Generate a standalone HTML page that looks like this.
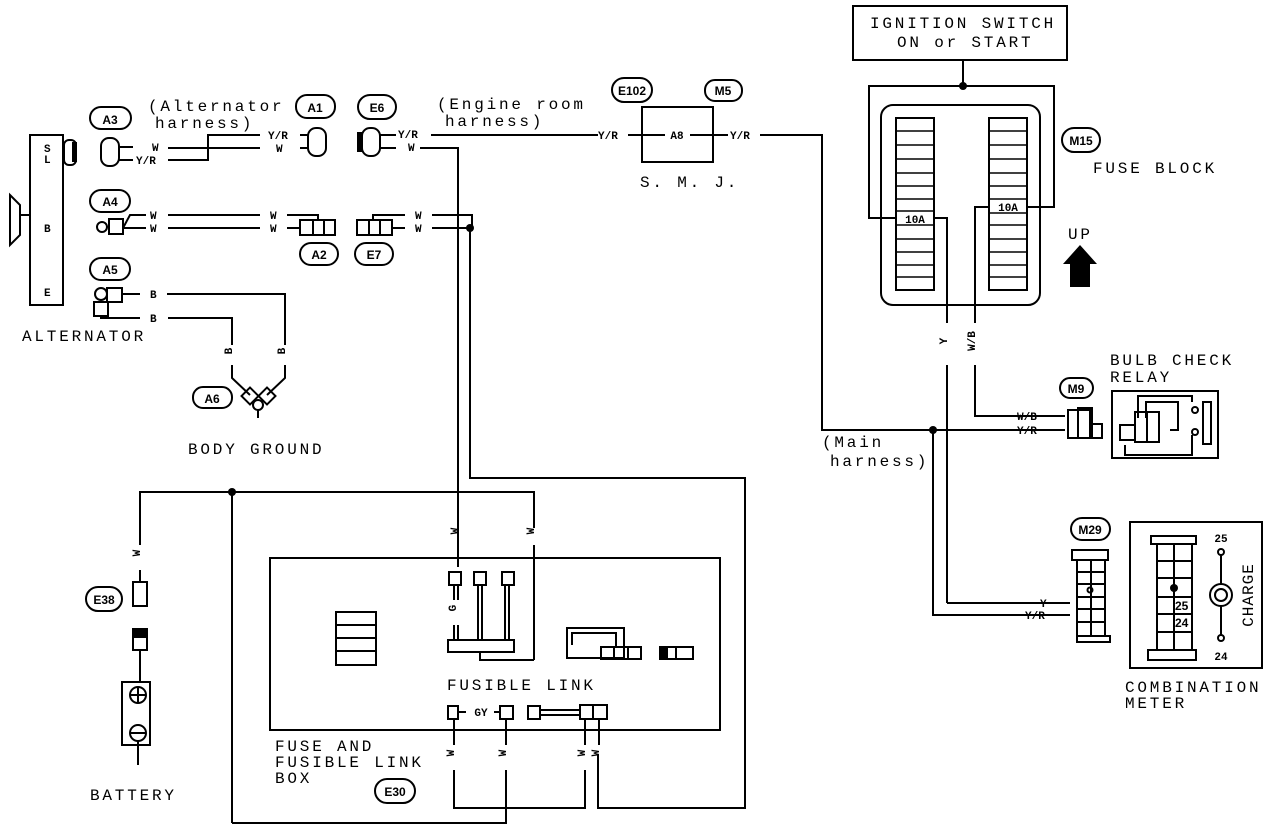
<!DOCTYPE html>
<html><head><meta charset="utf-8"><style>
html,body{margin:0;padding:0;background:#fff;}
svg{display:block}
text{font-family:"Liberation Mono",monospace;fill:#000}
.t{font-size:16px;letter-spacing:2.8px}
.s{font-size:11px;font-weight:bold}
.o{font-size:12px;font-weight:bold;font-family:"Liberation Sans Narrow","Liberation Sans",sans-serif}
</style></head><body>
<svg width="1280" height="832" viewBox="0 0 1280 832" xmlns="http://www.w3.org/2000/svg">
<g fill="none" stroke="#000" stroke-width="2">
<rect x="853" y="6" width="214" height="54"/>
<line x1="963" y1="60" x2="963" y2="86"/>
<polyline points="895,218 869,218 869,86 1054,86 1054,207 1028,207"/>
<rect x="881" y="105" width="159" height="200" rx="12"/>
<rect x="896" y="118" width="38" height="172"/>
<rect x="989" y="118" width="38" height="172"/>
<polyline points="934,218 947,218 947,323"/>
<polyline points="989,207 975,207 975,323"/>
<line x1="947" y1="365" x2="947" y2="603"/>
<line x1="947" y1="603" x2="1070" y2="603"/>
<polyline points="975,365 975,416 1065,416"/>
<polyline points="760,135 822,135 822,430 1065,430"/>
<polyline points="933,430 933,615 1070,615"/>
<rect x="1068" y="410" width="22" height="28"/>
<rect x="1078" y="408" width="14" height="30"/>
<rect x="1090" y="424" width="12" height="14"/>
<rect x="1112" y="391" width="106" height="67"/>
<polyline points="1138,418 1138,396 1192,396 1192,402"/>
<polyline points="1146,418 1146,402 1178,402 1178,430 1170,430"/>
<polyline points="1125,445 1125,455 1192,455 1192,435"/>
<rect x="1135" y="412" width="12" height="30"/>
<rect x="1147" y="412" width="12" height="30"/>
<rect x="1120" y="425" width="15" height="15"/>
<rect x="1203" y="402" width="8" height="42"/>
<circle cx="1195" cy="410" r="3"/>
<circle cx="1195" cy="432" r="3"/>
<rect x="1062" y="128" width="38" height="24" rx="12"/>
<rect x="1060" y="378" width="33" height="20" rx="10"/>
<rect x="1071" y="518" width="39" height="22" rx="11"/>
<rect x="612" y="78" width="40" height="24" rx="12"/>
<rect x="705" y="80" width="37" height="21" rx="10"/>
<rect x="296" y="95" width="39" height="23" rx="11"/>
<rect x="358" y="95" width="38" height="24" rx="12"/>
<rect x="90" y="107" width="41" height="22" rx="11"/>
<rect x="90" y="190" width="40" height="22" rx="11"/>
<rect x="90" y="258" width="40" height="22" rx="11"/>
<rect x="300" y="243" width="38" height="22" rx="11"/>
<rect x="355" y="243" width="38" height="22" rx="11"/>
<rect x="193" y="387" width="39" height="21" rx="10"/>
<rect x="86" y="587" width="36" height="24" rx="12"/>
<rect x="375" y="779" width="40" height="24" rx="12"/>
<rect x="642" y="107" width="71" height="55"/>
<line x1="431" y1="135" x2="598" y2="135"/>
<line x1="628" y1="135" x2="665" y2="135"/>
<line x1="690" y1="135" x2="728" y2="135"/>
<rect x="362" y="128" width="18" height="28" rx="8"/>
<line x1="380" y1="135" x2="396" y2="135"/>
<line x1="380" y1="148" x2="396" y2="148"/>
<polyline points="420,148 458,148 458,567"/>
<rect x="30" y="135" width="33" height="170"/>
<polygon points="10,195 20,205 20,235 10,245"/>
<line x1="20" y1="215" x2="30" y2="215"/>
<rect x="64" y="140" width="12" height="25" rx="5"/>
<rect x="101" y="138" width="18" height="28" rx="8"/>
<line x1="119" y1="147" x2="133" y2="147"/>
<line x1="119" y1="160" x2="133" y2="160"/>
<line x1="168" y1="148" x2="260" y2="148"/>
<polyline points="168,160 208,160 208,135 260,135"/>
<line x1="300" y1="135" x2="308" y2="135"/>
<line x1="300" y1="148" x2="308" y2="148"/>
<rect x="308" y="128" width="18" height="28" rx="8"/>
<circle cx="102" cy="227" r="5"/>
<rect x="109" y="219" width="14" height="15"/>
<polyline points="123,228 130,215 146,215"/>
<line x1="123" y1="228" x2="146" y2="228"/>
<line x1="168" y1="215" x2="260" y2="215"/>
<line x1="168" y1="228" x2="260" y2="228"/>
<polyline points="287,215 318,215 318,220"/>
<line x1="287" y1="228" x2="300" y2="228"/>
<rect x="300" y="220" width="35" height="15"/>
<line x1="313" y1="220" x2="313" y2="235"/><line x1="324" y1="220" x2="324" y2="235"/>
<rect x="357" y="220" width="35" height="15"/>
<line x1="369" y1="220" x2="369" y2="235"/><line x1="380" y1="220" x2="380" y2="235"/>
<polyline points="373,220 373,215 405,215"/>
<line x1="392" y1="228" x2="405" y2="228"/>
<polyline points="432,215 472,215 472,228"/>
<line x1="432" y1="228" x2="472" y2="228"/>
<polyline points="470,228 470,478 745,478 745,808 598,808 598,755"/>
<circle cx="101" cy="294" r="6"/>
<rect x="107" y="288" width="15" height="14"/>
<rect x="94" y="302" width="14" height="14"/>
<line x1="122" y1="294" x2="140" y2="294"/>
<polyline points="101,316 101,318 140,318"/>
<polyline points="167,294 285,294 285,345"/>
<polyline points="168,318 232,318 232,345"/>
<polyline points="232,365 232,378 250,395"/>
<polyline points="285,365 285,378 267,395"/>
<rect x="244" y="390" width="12" height="12" transform="rotate(45 250 396)"/>
<rect x="261" y="390" width="12" height="12" transform="rotate(45 267 396)"/>
<circle cx="258" cy="405" r="5"/>
<line x1="258" y1="410" x2="258" y2="418"/>
<polyline points="140,545 140,492 534,492 534,528"/>
<line x1="534" y1="545" x2="534" y2="660"/>
<line x1="232" y1="492" x2="232" y2="823"/>
<polyline points="232,823 506,823 506,808"/>
<line x1="140" y1="570" x2="140" y2="582"/>
<rect x="133" y="582" width="14" height="24"/>
<rect x="133" y="629" width="14" height="21"/>
<line x1="140" y1="650" x2="140" y2="682"/>
<rect x="122" y="682" width="28" height="63"/>
<circle cx="138" cy="695" r="8"/>
<line x1="130" y1="695" x2="146" y2="695"/><line x1="138" y1="687" x2="138" y2="703"/>
<circle cx="138" cy="733" r="8"/>
<line x1="130" y1="733" x2="146" y2="733"/>
<line x1="138" y1="741" x2="138" y2="765"/>
<rect x="270" y="558" width="450" height="172"/>
<rect x="336" y="612" width="40" height="53"/>
<line x1="336" y1="625" x2="376" y2="625"/><line x1="336" y1="638" x2="376" y2="638"/><line x1="336" y1="651" x2="376" y2="651"/>
<rect x="449" y="572" width="12" height="13"/>
<rect x="474" y="572" width="12" height="13"/>
<rect x="502" y="572" width="12" height="13"/>
<line x1="454" y1="585" x2="454" y2="600"/><line x1="458" y1="585" x2="458" y2="600"/>
<line x1="454" y1="625" x2="454" y2="640"/><line x1="458" y1="625" x2="458" y2="640"/>
<line x1="478" y1="585" x2="478" y2="640"/><line x1="482" y1="585" x2="482" y2="640"/>
<line x1="505" y1="585" x2="505" y2="640"/><line x1="509" y1="585" x2="509" y2="640"/>
<rect x="448" y="640" width="66" height="12"/>
<polyline points="480,652 480,660 534,660"/>
<rect x="567" y="628" width="57" height="30"/>
<polyline points="572,645 572,633 616,633 616,648"/>
<rect x="601" y="647" width="40" height="12"/>
<line x1="614" y1="647" x2="614" y2="659"/><line x1="628" y1="647" x2="628" y2="659"/>
<rect x="660" y="647" width="33" height="12"/>
<line x1="676" y1="647" x2="676" y2="659"/>
<rect x="448" y="706" width="10" height="13"/>
<rect x="500" y="706" width="13" height="13"/>
<rect x="528" y="706" width="12" height="13"/>
<rect x="580" y="705" width="27" height="14"/>
<line x1="593" y1="705" x2="593" y2="719"/>
<line x1="540" y1="710" x2="580" y2="710"/><line x1="540" y1="715" x2="580" y2="715"/>
<line x1="458" y1="712" x2="466" y2="712"/><line x1="494" y1="712" x2="500" y2="712"/>
<line x1="454" y1="719" x2="454" y2="745"/>
<line x1="506" y1="719" x2="506" y2="745"/>
<line x1="585" y1="719" x2="585" y2="745"/>
<line x1="599" y1="719" x2="599" y2="745"/>
<polyline points="454,770 454,808 585,808 585,770"/>
<line x1="506" y1="770" x2="506" y2="808"/>
<rect x="1072" y="550" width="36" height="10"/>
<rect x="1077" y="560" width="28" height="76"/>
<rect x="1077" y="636" width="33" height="6"/>
<line x1="1091" y1="560" x2="1091" y2="636"/>
<line x1="1077" y1="572" x2="1105" y2="572"/><line x1="1077" y1="584" x2="1105" y2="584"/><line x1="1077" y1="597" x2="1105" y2="597"/><line x1="1077" y1="609" x2="1105" y2="609"/><line x1="1077" y1="622" x2="1105" y2="622"/>
<circle cx="1090" cy="590" r="2.5"/>
<rect x="1130" y="522" width="132" height="146"/>
<rect x="1151" y="536" width="45" height="8"/>
<rect x="1157" y="544" width="35" height="106"/>
<rect x="1148" y="650" width="48" height="10"/>
<line x1="1174" y1="544" x2="1174" y2="650"/>
<line x1="1157" y1="561" x2="1192" y2="561"/><line x1="1157" y1="578" x2="1192" y2="578"/><line x1="1157" y1="597" x2="1192" y2="597"/><line x1="1157" y1="614" x2="1192" y2="614"/><line x1="1157" y1="632" x2="1192" y2="632"/>
<line x1="1221" y1="552" x2="1221" y2="638"/>
<circle cx="1221" cy="552" r="3" fill="#fff"/>
<circle cx="1221" cy="638" r="3" fill="#fff"/>
<circle cx="1221" cy="595" r="11" fill="#fff"/>
<circle cx="1221" cy="595" r="6" fill="#fff"/>
</g>
<g fill="#000">
<circle cx="963" cy="86" r="4"/>
<circle cx="933" cy="430" r="4"/>
<circle cx="470" cy="228" r="4"/>
<circle cx="232" cy="492" r="4"/>
<circle cx="1174" cy="588" r="4"/>
<polygon points="1080,245 1097,264 1090,264 1090,287 1070,287 1070,264 1063,264"/>
<rect x="357" y="132" width="6" height="20"/>
<rect x="72" y="142" width="5" height="20"/>
<rect x="660" y="647" width="8" height="12"/>
<rect x="134" y="630" width="12" height="8"/>
</g>
<g stroke="#000" stroke-width="1.5">
<line x1="896" y1="131" x2="934" y2="131"/><line x1="896" y1="145" x2="934" y2="145"/><line x1="896" y1="159" x2="934" y2="159"/><line x1="896" y1="173" x2="934" y2="173"/><line x1="896" y1="186" x2="934" y2="186"/><line x1="896" y1="199" x2="934" y2="199"/><line x1="896" y1="211" x2="934" y2="211"/><line x1="896" y1="225" x2="934" y2="225"/><line x1="896" y1="239" x2="934" y2="239"/><line x1="896" y1="252" x2="934" y2="252"/><line x1="896" y1="265" x2="934" y2="265"/><line x1="896" y1="277" x2="934" y2="277"/>
<line x1="989" y1="131" x2="1027" y2="131"/><line x1="989" y1="145" x2="1027" y2="145"/><line x1="989" y1="159" x2="1027" y2="159"/><line x1="989" y1="173" x2="1027" y2="173"/><line x1="989" y1="186" x2="1027" y2="186"/><line x1="989" y1="199" x2="1027" y2="199"/><line x1="989" y1="213" x2="1027" y2="213"/><line x1="989" y1="225" x2="1027" y2="225"/><line x1="989" y1="239" x2="1027" y2="239"/><line x1="989" y1="252" x2="1027" y2="252"/><line x1="989" y1="265" x2="1027" y2="265"/><line x1="989" y1="277" x2="1027" y2="277"/>
</g>
<text class="t" x="870" y="28">IGNITION SWITCH</text>
<text class="t" x="897" y="47">ON or START</text>
<text class="s" x="915" y="223" text-anchor="middle">10A</text>
<text class="s" x="1008" y="211" text-anchor="middle">10A</text>
<text class="o" x="1081" y="145" text-anchor="middle">M15</text>
<text class="t" x="1093" y="173">FUSE BLOCK</text>
<text class="t" x="1068" y="239">UP</text>
<text class="s" x="951" y="345" transform="rotate(-90 947 345)" text-anchor="middle">Y</text>
<text class="s" x="979" y="345" transform="rotate(-90 975 345)" text-anchor="middle">W/B</text>
<text class="t" x="1110" y="365">BULB CHECK</text>
<text class="t" x="1110" y="382">RELAY</text>
<text class="o" x="1076" y="393" text-anchor="middle">M9</text>
<text class="s" x="1017" y="420">W/B</text>
<text class="s" x="1017" y="434">Y/R</text>
<text class="t" x="822" y="447">(Main</text>
<text class="t" x="830" y="466">harness)</text>
<text class="o" x="1090" y="534" text-anchor="middle">M29</text>
<text class="s" x="1040" y="607">Y</text>
<text class="s" x="1025" y="619">Y/R</text>
<text class="s" x="1221" y="542" text-anchor="middle">25</text>
<text class="s" x="1221" y="660" text-anchor="middle">24</text>
<text class="o" x="1175" y="610">25</text>
<text class="o" x="1175" y="627">24</text>
<text class="t" x="1253" y="595" transform="rotate(-90 1253 595)" text-anchor="middle" style="letter-spacing:1px">CHARGE</text>
<text class="t" x="1125" y="692">COMBINATION</text>
<text class="t" x="1125" y="708">METER</text>
<text class="o" x="632" y="95" text-anchor="middle">E102</text>
<text class="o" x="723" y="95" text-anchor="middle">M5</text>
<text class="s" x="677" y="139" text-anchor="middle">A8</text>
<text class="t" x="640" y="187">S. M. J.</text>
<text class="s" x="598" y="139">Y/R</text>
<text class="s" x="730" y="139">Y/R</text>
<text class="t" x="437" y="109">(Engine room</text>
<text class="t" x="445" y="126">harness)</text>
<text class="o" x="377" y="112" text-anchor="middle">E6</text>
<text class="s" x="398" y="138">Y/R</text>
<text class="s" x="408" y="151">W</text>
<text class="o" x="315" y="112" text-anchor="middle">A1</text>
<text class="s" x="268" y="139">Y/R</text>
<text class="s" x="276" y="152">W</text>
<text class="t" x="148" y="111">(Alternator</text>
<text class="t" x="155" y="128">harness)</text>
<text class="o" x="110" y="124" text-anchor="middle">A3</text>
<text class="s" x="152" y="151">W</text>
<text class="s" x="136" y="164">Y/R</text>
<text class="s" x="44" y="152">S</text>
<text class="s" x="44" y="163">L</text>
<text class="s" x="44" y="232">B</text>
<text class="s" x="44" y="296">E</text>
<text class="o" x="110" y="206" text-anchor="middle">A4</text>
<text class="s" x="150" y="219">W</text><text class="s" x="150" y="232">W</text>
<text class="s" x="270" y="219">W</text><text class="s" x="270" y="232">W</text>
<text class="s" x="415" y="219">W</text><text class="s" x="415" y="232">W</text>
<text class="o" x="319" y="259" text-anchor="middle">A2</text>
<text class="o" x="374" y="259" text-anchor="middle">E7</text>
<text class="o" x="110" y="274" text-anchor="middle">A5</text>
<text class="s" x="150" y="298">B</text>
<text class="s" x="150" y="322">B</text>
<text class="s" x="236" y="355" transform="rotate(-90 232 355)" text-anchor="middle">B</text>
<text class="s" x="289" y="355" transform="rotate(-90 285 355)" text-anchor="middle">B</text>
<text class="t" x="22" y="341">ALTERNATOR</text>
<text class="o" x="212" y="403" text-anchor="middle">A6</text>
<text class="t" x="188" y="454">BODY GROUND</text>
<text class="s" x="144" y="557" transform="rotate(-90 140 557)" text-anchor="middle">W</text>
<text class="s" x="462" y="535" transform="rotate(-90 458 535)" text-anchor="middle">W</text>
<text class="s" x="538" y="535" transform="rotate(-90 534 535)" text-anchor="middle">W</text>
<text class="s" x="460" y="612" transform="rotate(-90 456 612)" text-anchor="middle">G</text>
<text class="o" x="104" y="604" text-anchor="middle">E38</text>
<text class="t" x="90" y="800">BATTERY</text>
<text class="t" x="447" y="690">FUSIBLE LINK</text>
<text class="s" x="481" y="716" text-anchor="middle">GY</text>
<text class="s" x="458" y="757" transform="rotate(-90 454 757)" text-anchor="middle">W</text>
<text class="s" x="510" y="757" transform="rotate(-90 506 757)" text-anchor="middle">W</text>
<text class="s" x="589" y="757" transform="rotate(-90 585 757)" text-anchor="middle">W</text>
<text class="s" x="603" y="757" transform="rotate(-90 599 757)" text-anchor="middle">W</text>
<text class="t" x="275" y="751">FUSE AND</text>
<text class="t" x="275" y="767">FUSIBLE LINK</text>
<text class="t" x="275" y="783">BOX</text>
<text class="o" x="395" y="796" text-anchor="middle">E30</text>
</svg>
</body></html>
